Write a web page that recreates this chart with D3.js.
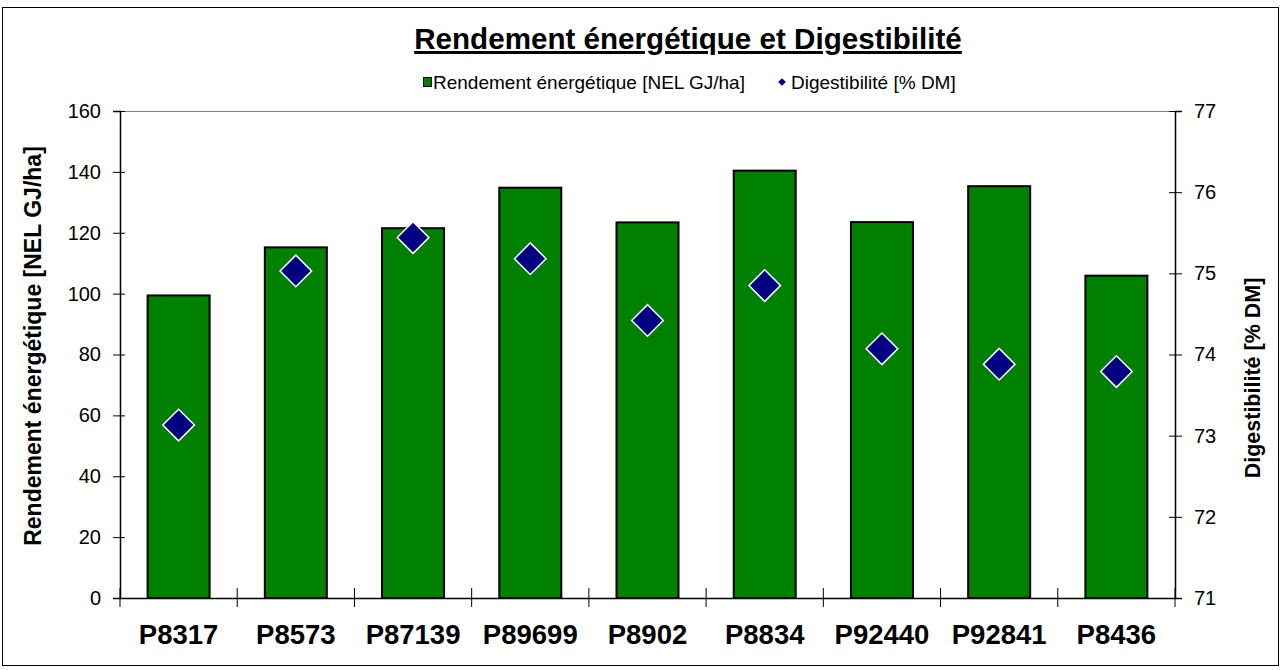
<!DOCTYPE html>
<html>
<head>
<meta charset="utf-8">
<script src="https://cdn.jsdelivr.net/npm/d3@7"></script>
<style>
  body { margin: 0; background: #fff; }
  text { font-family: Arial, "Liberation Sans", sans-serif; }
</style>
</head>
<body>
<div id="chart"></div>
<script>
'use strict'
// chart data
var categories = ["P8317", "P8573", "P87139", "P89699", "P8902", "P8834", "P92440", "P92841", "P8436"];
var rendement = [99.4, 115.2, 121.5, 134.8, 123.4, 140.4, 123.5, 135.3, 105.9];
var digestibilite = [73.13, 75.03, 75.44, 75.18, 74.42, 74.85, 74.07, 73.88, 73.79];
var leftTicks = [0, 20, 40, 60, 80, 100, 120, 140, 160];
var rightTicks = [71, 72, 73, 74, 75, 76, 77];

var W = 1282, H = 670;
var plot = {left: 120, right: 1175, top: 111, bottom: 598};

var svg = d3.select("#chart").append("svg")
    .attr("width", W)
    .attr("height", H);

// outer frame
svg.append("rect")
    .attr("x", 2.5).attr("y", 7.5)
    .attr("width", 1276).attr("height", 658)
    .attr("fill", "#fff")
    .attr("stroke", "#000")
    .attr("stroke-width", 1);

var x = d3.scaleBand()
    .domain(categories)
    .range([plot.left, plot.right])
    .paddingInner(0.471)
    .paddingOuter(0.2355);

var yL = d3.scaleLinear().domain([0, 160]).range([plot.bottom, plot.top]);
var yR = d3.scaleLinear().domain([71, 77]).range([plot.bottom, plot.top]);

// top border of plot area
svg.append("line")
    .attr("x1", plot.left).attr("x2", plot.right)
    .attr("y1", plot.top + 0.5).attr("y2", plot.top + 0.5)
    .attr("stroke", "#808080");

// bars
svg.append("g").selectAll("rect")
    .data(rendement)
    .enter()
    .append("rect")
    .attr("x", function(d, i){ return x(categories[i]); })
    .attr("y", function(d){ return yL(d); })
    .attr("width", x.bandwidth())
    .attr("height", function(d){ return yL(0) - yL(d); })
    .attr("fill", "#008000")
    .attr("stroke", "#000")
    .attr("stroke-width", 2);

// left axis
var gL = svg.append("g")
    .attr("transform", "translate(" + plot.left + ",0)")
    .call(d3.axisLeft(yL).tickValues(leftTicks).tickSize(7).tickPadding(12));
gL.select(".domain").attr("stroke", "#000").attr("stroke-width", 1.5);
gL.selectAll(".tick line").attr("x1", 5).attr("stroke", "#000");
gL.selectAll(".tick text")
    .attr("font-size", 20)
    .attr("fill", "#000")
    .style("font-family", "Arial, 'Liberation Sans', sans-serif");

// right axis
var gR = svg.append("g")
    .attr("transform", "translate(" + plot.right + ",0)")
    .call(d3.axisRight(yR).tickValues(rightTicks).tickFormat(d3.format("d")).tickSize(7).tickPadding(12));
gR.select(".domain").attr("stroke", "#000").attr("stroke-width", 1.5);
gR.selectAll(".tick line").attr("x1", -6).attr("stroke", "#000");
gR.selectAll(".tick text")
    .attr("font-size", 20)
    .attr("fill", "#000")
    .style("font-family", "Arial, 'Liberation Sans', sans-serif");

// bottom category axis
var gB = svg.append("g")
    .attr("transform", "translate(0," + plot.bottom + ")")
    .call(d3.axisBottom(x).tickSize(0).tickPadding(26));
gB.select(".domain").attr("stroke", "#000").attr("stroke-width", 1.5);
gB.selectAll(".tick text")
    .attr("font-size", 27.5)
    .attr("font-weight", "bold")
    .attr("fill", "#000")
    .style("font-family", "Arial, 'Liberation Sans', sans-serif");

// category separator ticks
var boundaries = d3.range(categories.length + 1).map(function(i){
    return plot.left + x.step() * i;
});
gB.selectAll(".sep")
    .data(boundaries)
    .enter()
    .append("line")
    .attr("class", "sep")
    .attr("x1", function(d){ return d; })
    .attr("x2", function(d){ return d; })
    .attr("y1", -10)
    .attr("y2", 9)
    .attr("stroke", "#000");

// diamonds
var diamond = d3.symbol().type(d3.symbolSquare).size(500);
svg.append("g").selectAll("path")
    .data(digestibilite)
    .enter()
    .append("path")
    .attr("d", diamond)
    .attr("transform", function(d, i){
        return "translate(" + (x(categories[i]) + x.bandwidth() / 2) + "," + yR(d) + ") rotate(45)";
    })
    .attr("fill", "#000080")
    .attr("stroke", "#fff")
    .attr("stroke-width", 1.5);

// title
svg.append("text")
    .attr("x", 688)
    .attr("y", 49)
    .attr("text-anchor", "middle")
    .attr("font-size", 29.6)
    .attr("font-weight", "bold")
    .attr("text-decoration", "underline")
    .text("Rendement énergétique et Digestibilité");

// legend
var legend = svg.append("g");
legend.append("rect")
    .attr("x", 423.5).attr("y", 77.5)
    .attr("width", 8).attr("height", 9)
    .attr("fill", "#008000")
    .attr("stroke", "#000")
    .attr("stroke-width", 1);
legend.append("text")
    .attr("x", 433)
    .attr("y", 89)
    .attr("font-size", 19)
    .text("Rendement énergétique [NEL GJ/ha]");
legend.append("path")
    .attr("d", d3.symbol().type(d3.symbolSquare).size(30))
    .attr("transform", "translate(782,82) rotate(45)")
    .attr("fill", "#000080");
legend.append("text")
    .attr("x", 791)
    .attr("y", 89)
    .attr("font-size", 19)
    .text("Digestibilité [% DM]");

// axis titles
svg.append("text")
    .attr("transform", "translate(41,346) rotate(-90)")
    .attr("text-anchor", "middle")
    .attr("font-size", 23)
    .attr("font-weight", "bold")
    .text("Rendement énergétique [NEL GJ/ha]");

svg.append("text")
    .attr("transform", "translate(1260,378) rotate(-90)")
    .attr("text-anchor", "middle")
    .attr("font-size", 21.5)
    .attr("font-weight", "bold")
    .text("Digestibilité [% DM]");
</script>
</body>
</html>
